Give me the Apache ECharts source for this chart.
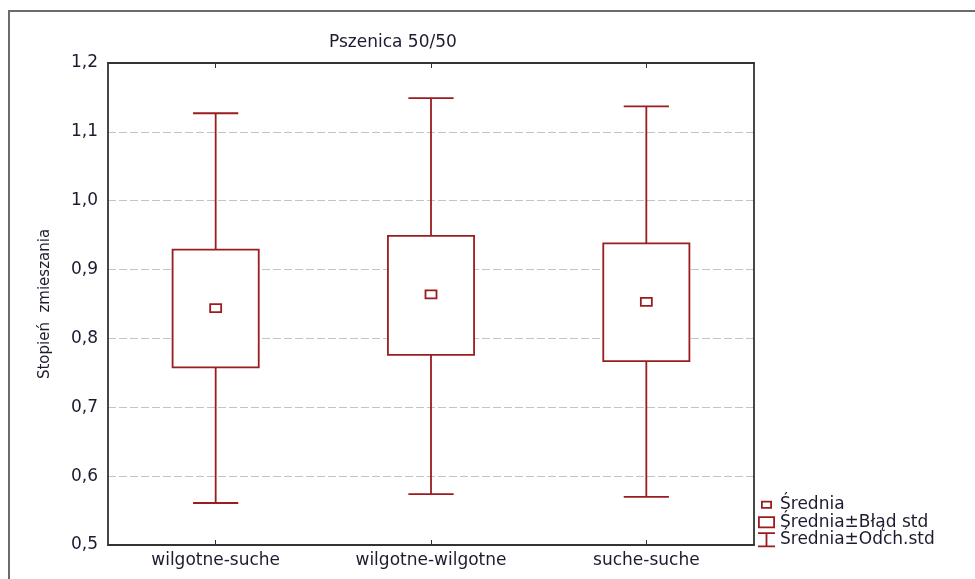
<!DOCTYPE html>
<html>
<head>
<meta charset="utf-8">
<script src="https://cdn.jsdelivr.net/npm/echarts@6/dist/echarts.min.js"></script>
<style>
  html, body { margin: 0; padding: 0; background: #fff; }
  #chart { width: 975px; height: 579px; }
</style>
</head>
<body>
<div id="chart"></div>
<script>
// dane
const categories = ['wilgotne-suche', 'wilgotne-wilgotne', 'suche-suche'];
const means  = [0.844, 0.864, 0.853];
const seLow  = [0.758, 0.776, 0.767];
const seHigh = [0.929, 0.949, 0.938];
const sdLow  = [0.561, 0.574, 0.570];
const sdHigh = [1.127, 1.149, 1.137];
const yMin = 0.5, yMax = 1.2, yStep = 0.1;
const seriesNames = ['Średnia', 'Średnia±Błąd std', 'Średnia±Odch.std'];

const RED = '#9a1c20';
const TEXT = '#1c1c30';
const FONT = 'DejaVu Sans';

// wiersze dla serii custom: [kategoria, sdLow, seLow, mean, seHigh, sdHigh]
const rows = categories.map((c, i) => [i, sdLow[i], seLow[i], means[i], seHigh[i], sdHigh[i]]);

// ikony legendy w tej samej ramce 17x15 (kotwice w rogach)
const anchors = 'M0,0 L0.01,0 L0,0.01 Z M17,15 L16.99,15 L17,14.99 Z ';
const iconMean = 'path://' + anchors + 'M3,3.5 H14 V11.5 H3 Z M4.8,5.3 V9.7 H12.2 V5.3 Z';
const iconBox = 'path://' + anchors + 'M0,1.5 H17 V13.5 H0 Z M1.8,3.3 V11.7 H15.2 V3.3 Z';
const iconWhisker = 'path://' + anchors + 'M0,0 H17 V1.8 H9.4 V13.2 H17 V15 H0 V13.2 H7.6 V1.8 H0 Z';

function renderWhisker(params, api) {
    const i = api.value(0);
    const bottom = api.coord([i, api.value(1)]);
    const lower = api.coord([i, api.value(2)]);
    const upper = api.coord([i, api.value(4)]);
    const top = api.coord([i, api.value(5)]);
    const half = api.size([1, 0])[0] * 0.105;
    const style = { stroke: RED, lineWidth: 1.8, fill: null };
    return {
        type: 'group',
        children: [
            { type: 'line', shape: { x1: top[0], y1: top[1], x2: upper[0], y2: upper[1] }, style: style },
            { type: 'line', shape: { x1: lower[0], y1: lower[1], x2: bottom[0], y2: bottom[1] }, style: style },
            { type: 'line', shape: { x1: top[0] - half, y1: top[1], x2: top[0] + half, y2: top[1] }, style: style },
            { type: 'line', shape: { x1: bottom[0] - half, y1: bottom[1], x2: bottom[0] + half, y2: bottom[1] }, style: style }
        ]
    };
}

function renderBox(params, api) {
    const i = api.value(0);
    const lower = api.coord([i, api.value(2)]);
    const upper = api.coord([i, api.value(4)]);
    const w = api.size([1, 0])[0] * 0.4;
    return {
        type: 'rect',
        shape: { x: upper[0] - w / 2, y: upper[1], width: w, height: lower[1] - upper[1] },
        style: { fill: '#fff', stroke: RED, lineWidth: 1.8 }
    };
}

function renderMean(params, api) {
    const i = api.value(0);
    const p = api.coord([i, api.value(3)]);
    return {
        type: 'rect',
        shape: { x: p[0] - 5.5, y: p[1] - 4, width: 11, height: 8 },
        style: { fill: '#fff', stroke: RED, lineWidth: 1.8 }
    };
}

const axisLine = { show: true, lineStyle: { color: '#333', width: 1.8 } };

const option = {
    animation: false,
    backgroundColor: '#fff',
    title: {
        text: 'Pszenica 50/50',
        left: 329,
        top: 34,
        padding: 0,
        textStyle: { fontFamily: FONT, fontSize: 17, fontWeight: 'normal', color: TEXT }
    },
    grid: { left: 108, right: 221, top: 63, bottom: 34 },
    legend: {
        orient: 'vertical',
        left: 758,
        top: 496,
        padding: 0,
        itemGap: 0,
        itemWidth: 17,
        itemHeight: 15,
        textStyle: { fontFamily: FONT, fontSize: 17, color: TEXT, lineHeight: 17.5 },
        itemStyle: { borderWidth: 0 },
        data: [
            { name: seriesNames[0], icon: iconMean, itemStyle: { color: RED, borderWidth: 0 } },
            { name: seriesNames[1], icon: iconBox, itemStyle: { color: RED, borderWidth: 0 } },
            { name: seriesNames[2], icon: iconWhisker, itemStyle: { color: RED, borderWidth: 0 } }
        ]
    },
    graphic: [{
        type: 'rect',
        shape: { x: 9, y: 11, width: 1200, height: 800 },
        style: { fill: null, stroke: '#6b6b6b', lineWidth: 2 },
        silent: true
    }],
    xAxis: [
        {
            type: 'category',
            data: categories,
            position: 'bottom',
            axisLine: axisLine,
            axisTick: { show: true, inside: true, alignWithLabel: true, length: 5, lineStyle: { color: '#333' } },
            axisLabel: { margin: 7, fontFamily: FONT, fontSize: 17, color: TEXT },
            splitLine: { show: false }
        },
        {
            type: 'category',
            data: categories,
            position: 'top',
            axisLine: axisLine,
            axisTick: { show: true, inside: true, alignWithLabel: true, length: 5, lineStyle: { color: '#333' } },
            axisLabel: { show: false },
            splitLine: { show: false }
        }
    ],
    yAxis: [
        {
            type: 'value',
            min: yMin,
            max: yMax,
            interval: yStep,
            name: 'Stopień  zmieszania',
            nameLocation: 'middle',
            nameRotate: 90,
            nameGap: 55,
            nameTextStyle: { fontFamily: FONT, fontSize: 15, color: TEXT },
            axisLine: axisLine,
            axisTick: { show: false },
            axisLabel: {
                margin: 10,
                fontFamily: FONT,
                fontSize: 17,
                color: TEXT,
                formatter: function (v) { return v.toFixed(1).replace('.', ','); }
            },
            splitLine: { show: true, lineStyle: { color: '#c4c4c4', width: 1, type: [8, 3] } }
        },
        {
            type: 'value',
            min: yMin,
            max: yMax,
            interval: yStep,
            position: 'right',
            axisLine: axisLine,
            axisTick: { show: false },
            axisLabel: { show: false },
            splitLine: { show: false }
        }
    ],
    series: [
        {
            name: seriesNames[2],
            type: 'custom',
            renderItem: renderWhisker,
            itemStyle: { color: RED },
            encode: { x: 0, y: [1, 5] },
            data: rows,
            z: 2
        },
        {
            name: seriesNames[1],
            type: 'custom',
            renderItem: renderBox,
            itemStyle: { color: RED },
            encode: { x: 0, y: [2, 4] },
            data: rows,
            z: 3
        },
        {
            name: seriesNames[0],
            type: 'custom',
            renderItem: renderMean,
            itemStyle: { color: RED },
            encode: { x: 0, y: 3 },
            data: rows,
            z: 4
        }
    ]
};

const chart = echarts.init(document.getElementById('chart'));
chart.setOption(option);
</script>
</body>
</html>
